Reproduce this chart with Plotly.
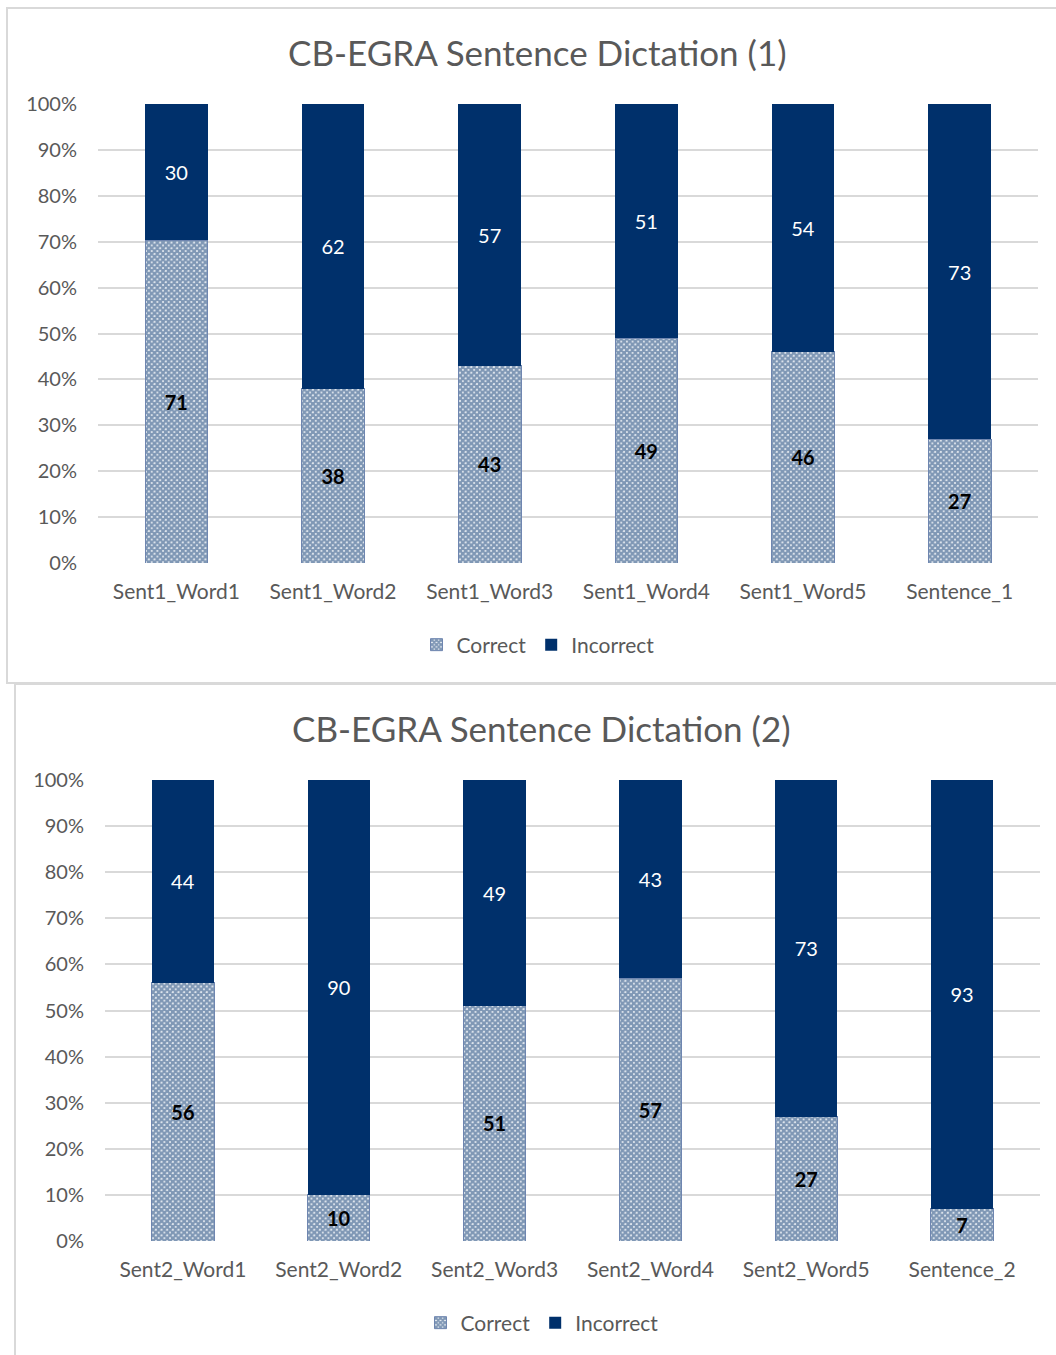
import plotly.graph_objects as go

# ---- data -------------------------------------------------------------
cats_1 = ["Sent1_Word1", "Sent1_Word2", "Sent1_Word3", "Sent1_Word4", "Sent1_Word5", "Sentence_1"]
correct_1 = [71, 38, 43, 49, 46, 27]
incorrect_1 = [30, 62, 57, 51, 54, 73]

cats_2 = ["Sent2_Word1", "Sent2_Word2", "Sent2_Word3", "Sent2_Word4", "Sent2_Word5", "Sentence_2"]
correct_2 = [56, 10, 51, 57, 27, 7]
incorrect_2 = [44, 90, 49, 43, 73, 93]

titles = ["CB-EGRA Sentence Dictation (1)", "CB-EGRA Sentence Dictation (2)"]
y_ticks = [0, 10, 20, 30, 40, 50, 60, 70, 80, 90, 100]
y_tick_text = [f"{v}%" for v in y_ticks]

# ---- styling ----------------------------------------------------------
W, H = 1056, 1355
NAVY = "#00306b"
GREY_TXT = "#595959"
GRID = "#d9d9d9"
FONT = "Lato, 'Open Sans', sans-serif"


def px_x(x):
    return x / W


def px_y(y):
    return 1 - y / H


fig = go.Figure()

panels = [
    dict(cats=cats_1, cor=correct_1, inc=incorrect_1, xa="x", ya="y", lg="legend"),
    dict(cats=cats_2, cor=correct_2, inc=incorrect_2, xa="x2", ya="y2", lg="legend2"),
]

for p in panels:
    fig.add_trace(go.Bar(
        x=p["cats"], y=p["cor"], name="Correct",
        xaxis=p["xa"], yaxis=p["ya"], legend=p["lg"],
        marker=dict(color="white",
                    pattern=dict(shape="x", fgcolor=NAVY, bgcolor="white", size=4, solidity=0.85),
                    line=dict(color="#6f86b0", width=1)),
        text=[str(v) for v in p["cor"]], textposition="inside", insidetextanchor="middle",
        textfont=dict(color="black", size=20, family=FONT, weight="bold"),
        constraintext="none",
    ))
    fig.add_trace(go.Bar(
        x=p["cats"], y=p["inc"], name="Incorrect",
        xaxis=p["xa"], yaxis=p["ya"], legend=p["lg"],
        marker=dict(color=NAVY, line=dict(width=0)),
        text=[str(v) for v in p["inc"]], textposition="inside", insidetextanchor="middle",
        textfont=dict(color="white", size=20, family=FONT),
        constraintext="none",
    ))

axis_common_x = dict(showgrid=False, showline=False, zeroline=False, ticks="",
                     tickfont=dict(size=21, color=GREY_TXT, family=FONT), ticklabelstandoff=14)
axis_common_y = dict(range=[0, 100], tickmode="array", tickvals=y_ticks, ticktext=y_tick_text,
                     showgrid=True, gridcolor=GRID, gridwidth=1.5, zeroline=False,
                     showline=False, ticks="",
                     tickfont=dict(size=20, color=GREY_TXT, family=FONT), ticklabelstandoff=20)

legend_font = dict(size=21, color=GREY_TXT, family=FONT)

fig.update_layout(
    width=W, height=H,
    margin=dict(l=0, r=0, t=0, b=0, autoexpand=False),
    paper_bgcolor="white", plot_bgcolor="white",
    barmode="stack", barnorm="percent", bargap=0.6,
    uniformtext=dict(minsize=8, mode="show"),
    font=dict(family=FONT, color=GREY_TXT),
    xaxis=dict(domain=[px_x(98), px_x(1038)], anchor="y", **axis_common_x),
    yaxis=dict(domain=[px_y(563), px_y(104)], anchor="x", **axis_common_y),
    xaxis2=dict(domain=[px_x(105), px_x(1040)], anchor="y2", **axis_common_x),
    yaxis2=dict(domain=[px_y(1241), px_y(780)], anchor="x2", **axis_common_y),
    legend=dict(orientation="h", x=px_x(538), xanchor="center", y=px_y(645), yanchor="middle",
                font=legend_font, traceorder="normal"),
    legend2=dict(orientation="h", x=px_x(542), xanchor="center", y=px_y(1323), yanchor="middle",
                 font=legend_font, traceorder="normal"),
    showlegend=True,
)

# chart titles
for text, cx, cy in [(titles[0], 537, 52), (titles[1], 541, 728)]:
    fig.add_annotation(text=text, xref="paper", yref="paper", x=px_x(cx), y=px_y(cy),
                       xanchor="center", yanchor="middle", showarrow=False,
                       font=dict(size=35, color=GREY_TXT, family=FONT))

# chart frames
fig.add_shape(type="rect", xref="paper", yref="paper",
              x0=px_x(7), x1=1.02, y0=px_y(683), y1=px_y(8),
              line=dict(color=GRID, width=2), fillcolor="rgba(0,0,0,0)", layer="below")
fig.add_shape(type="rect", xref="paper", yref="paper",
              x0=px_x(15), x1=1.02, y0=-0.02, y1=px_y(684),
              line=dict(color=GRID, width=2), fillcolor="rgba(0,0,0,0)", layer="below")

fig.write_html("out.html")
